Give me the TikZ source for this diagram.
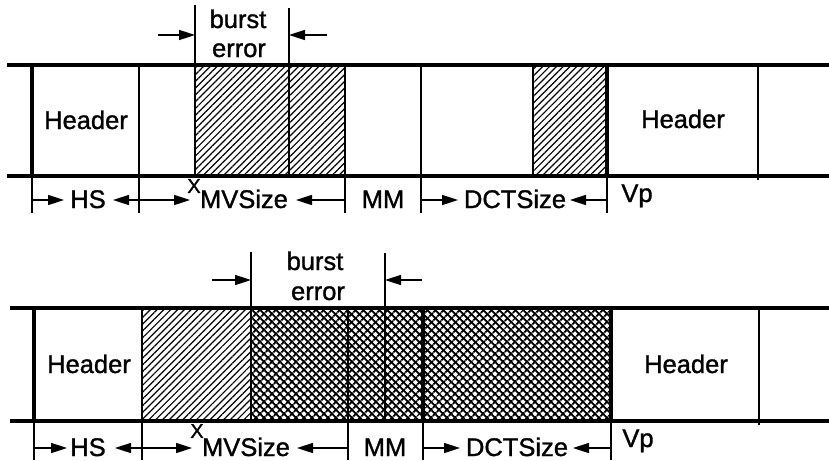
\documentclass[tikz,border=0pt]{standalone}
\usepackage{fontspec}
\setmainfont{Liberation Sans}
\newfontfamily\labelfont[FakeBold=1.2]{Liberation Sans}
\usetikzlibrary{patterns.meta,arrows.meta}

\begin{document}
\begin{tikzpicture}[x=1pt,y=-1pt,
  rail/.style={line width=4pt},
  rule/.style={line width=1.4pt},
  heavy/.style={line width=3.2pt},
  dim/.style={line width=1.6pt,-{Triangle[length=16pt,width=10pt]}},
  lbl/.style={font=\labelfont\fontsize{25.5}{28}\selectfont,inner sep=0pt,anchor=base},
  xsign/.style={font=\labelfont\fontsize{20}{22}\selectfont,inner sep=0pt},
  hatch/.style={pattern={Lines[angle=45,distance=4.8pt,line width=1.2pt]}},
  xhatchA/.style={pattern={Lines[angle=45,distance=5.4pt,line width=2pt]}},
  xhatchB/.style={pattern={Lines[angle=-45,distance=5.4pt,line width=2pt]}}]
\useasboundingbox (0,0) rectangle (829,460);

% ---------------- upper stream ----------------
\fill[hatch] (195,65) rectangle (345,176);
\fill[hatch] (533,65) rectangle (607,176);

\draw[heavy] (32,65) -- (32,176);
\draw[rule] (32,176) -- (32,213);
\draw[rule] (139,65) -- (139,213);
\draw[rule] (195,5) -- (195,176);
\draw[rule] (289,8) -- (289,176);
\draw[rule] (345,65) -- (345,213);
\draw[rule] (421,65) -- (421,213);
\draw[rule] (533,65) -- (533,176);
\draw[heavy] (607,65) -- (607,176);
\draw[rule] (607,176) -- (607,213);
\draw[rule] (758,65) -- (758,180);

\draw[rail] (7,65) -- (829,65);
\draw[rail] (7,176) -- (829,176);

\node[lbl] (h1) at (86,129) {Header};
\node[lbl] (h2) at (683,128) {Header};
\node[lbl] (b1) at (238,28) {burst};
\node[lbl] (e1) at (239,57) {error};

\coordinate (ba1) at (158,35);
\coordinate (bb1) at (195,35);
\coordinate (bc1) at (327,35);
\coordinate (bd1) at (289,35);
\draw[dim] (ba1) -- (bb1);
\draw[dim] (bc1) -- (bd1);

\node[lbl] (hs1) at (88,208) {HS};
\node[lbl] (mv1) at (244,208) {MVSize};
\node[lbl] (mm1) at (383,208) {MM};
\node[lbl] (dc1) at (515,208) {DCTSize};
\node[lbl] (vp1) at (637,202) {Vp};
\node[xsign] (x1) at (194,186) {X};

\coordinate (t1a) at (32,200);
\coordinate (t1b) at (139,200);
\coordinate (t1c) at (345,200);
\coordinate (t1d) at (421,200);
\coordinate (t1e) at (607,200);
\draw[dim] (t1a) -- (64,200);
\draw[dim] (t1b) -- (113,200);
\draw[dim] (t1b) -- (190,200);
\draw[dim] (t1c) -- (296,200);
\draw[dim] (t1d) -- (458,200);
\draw[dim] (t1e) -- (570,200);

% ---------------- lower stream ----------------
\fill[hatch] (142,308) rectangle (251,421);
\fill[xhatchA] (251,308) rectangle (611,421);
\fill[xhatchB] (251,308) rectangle (611,421);

\draw[heavy] (34,308) -- (34,421);
\draw[rule] (34,421) -- (34,460);
\draw[rule] (142,308) -- (142,460);
\draw[rule] (251,252) -- (251,421);
\draw[rule] (348,308) -- (348,460);
\draw[rule] (385,253) -- (385,421);
\draw[heavy] (423,308) -- (423,421);
\draw[rule] (423,421) -- (423,460);
\draw[heavy] (611,308) -- (611,421);
\draw[rule] (611,421) -- (611,460);
\draw[rule] (759,308) -- (759,425);

\draw[rail] (10,308) -- (829,308);
\draw[rail] (10,421) -- (829,421);

\node[lbl] (h3) at (89,373) {Header};
\node[lbl] (h4) at (686,373) {Header};
\node[lbl] (b2) at (315,270) {burst};
\node[lbl] (e2) at (318,300) {error};

\coordinate (ba2) at (212,280);
\coordinate (bb2) at (251,280);
\coordinate (bc2) at (422,280);
\coordinate (bd2) at (385,280);
\draw[dim] (ba2) -- (bb2);
\draw[dim] (bc2) -- (bd2);

\node[lbl] (hs2) at (88,456) {HS};
\node[lbl] (mv2) at (246,456) {MVSize};
\node[lbl] (mm2) at (385,456) {MM};
\node[lbl] (dc2) at (517,456) {DCTSize};
\node[lbl] (vp2) at (638,447) {Vp};
\node[xsign] (x2) at (197,431) {X};

\coordinate (t2a) at (34,448);
\coordinate (t2b) at (142,448);
\coordinate (t2c) at (348,448);
\coordinate (t2d) at (423,448);
\coordinate (t2e) at (611,448);
\draw[dim] (t2a) -- (67,448);
\draw[dim] (t2b) -- (115,448);
\draw[dim] (t2b) -- (192,448);
\draw[dim] (t2c) -- (297,448);
\draw[dim] (t2d) -- (460,448);
\draw[dim] (t2e) -- (573,448);
\end{tikzpicture}
\end{document}
